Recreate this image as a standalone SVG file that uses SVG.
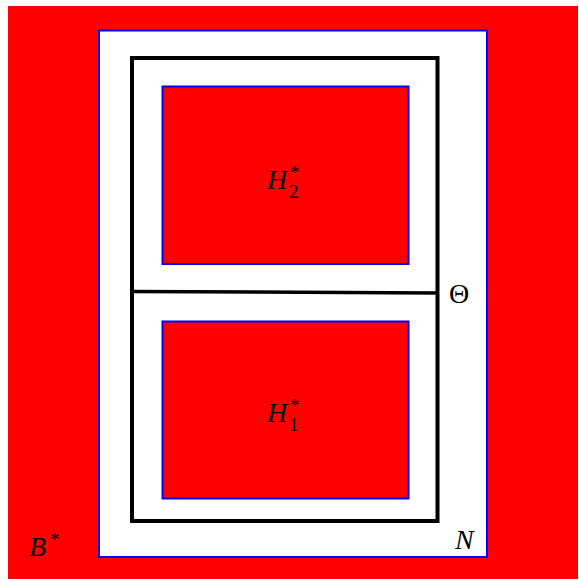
<svg xmlns="http://www.w3.org/2000/svg" width="579" height="580" viewBox="0 0 579 580">
<style>
.bg{fill:#ff0000}
.blue{stroke:#0000ff;stroke-width:2}
.blk{fill:none;stroke:#000;stroke-width:4}
.m{font-family:"Liberation Serif","DejaVu Serif",serif;font-style:italic;font-size:28px;fill:#000}
.u{font-family:"Liberation Serif","DejaVu Serif",serif;font-size:28px;fill:#000}
.s{font-family:"Liberation Serif","DejaVu Serif",serif;font-size:19px;fill:#000}
</style>
<rect x="0" y="0" width="579" height="580" fill="#fff"/>
<g id="Bstar">
<rect class="bg" x="8" y="6" width="570" height="573"/>
<text class="m" x="29" y="556">B</text><text class="s" x="50" y="546">*</text>
</g>
<g id="N">
<rect class="blue" fill="#fff" x="99" y="30.5" width="388" height="526.5"/>
<text class="m" x="455" y="549">N</text>
</g>
<g id="Theta">
<rect class="blk" x="132" y="58" width="305.5" height="463"/>
<text class="u" x="449" y="303">Θ</text>
</g>
<g id="connectors">
<line x1="132" y1="291.5" x2="437.5" y2="293" stroke="#000" stroke-width="3.5"/>
</g>
<g id="H2">
<rect class="bg blue" x="162.5" y="86.5" width="246" height="177.5"/>
<text class="m" x="267" y="189">H</text><text class="s" x="290" y="179">*</text><text class="s" x="289" y="198">2</text>
</g>
<g id="H1">
<rect class="bg blue" x="162.5" y="321.5" width="246" height="177"/>
<text class="m" x="267" y="422">H</text><text class="s" x="290" y="412">*</text><text class="s" x="289" y="431">1</text>
</g>
</svg>
